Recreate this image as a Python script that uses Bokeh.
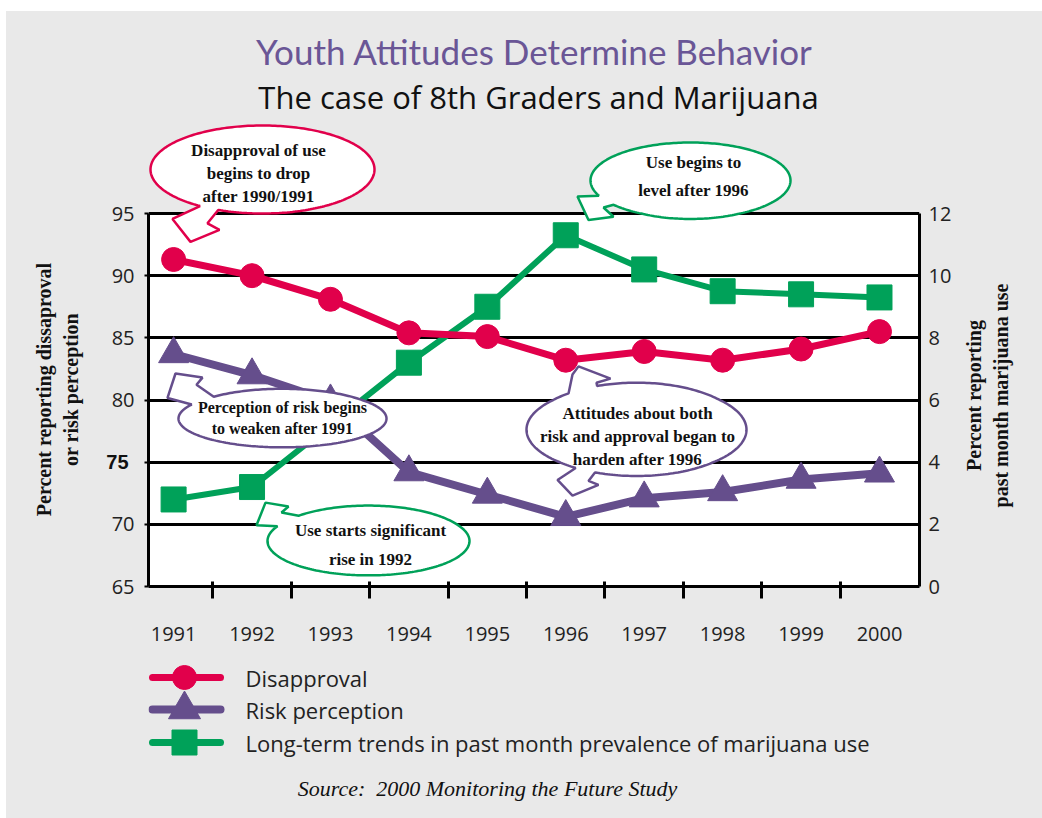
import math

import numpy as np
from bokeh.core.properties import value
from bokeh.embed import file_html
from bokeh.layouts import column, row
from bokeh.models import (BoxAnnotation, FixedTicker, Label, LinearAxis, PolyAnnotation,
                          Range1d, Spacer)
from bokeh.plotting import figure
from bokeh.resources import INLINE

# ---------------------------------------------------------------- data
years = [1991, 1992, 1993, 1994, 1995, 1996, 1997, 1998, 1999, 2000]
disapproval = [91.3, 90.0, 88.1, 85.4, 85.1, 83.2, 83.9, 83.2, 84.1, 85.5]
risk_perception = [83.7, 82.0, 79.9, 74.2, 72.4, 70.6, 72.1, 72.6, 73.6, 74.1]
past_month_use = [2.8, 3.2, 5.2, 7.2, 9.0, 11.3, 10.2, 9.5, 9.4, 9.3]

left_ticks = [65, 70, 75, 80, 85, 90, 95]
right_ticks = [0, 2, 4, 6, 8, 10, 12]
year_labels = [str(y) for y in years]
series_names = [
    "Disapproval",
    "Risk perception",
    "Long-term trends in past month prevalence of marijuana use",
]

# ---------------------------------------------------------------- styles
RED = "#e1004b"
PURPLE = "#654e8c"
GREEN = "#00a159"
TITLE_PURPLE = "#6a5696"
BG = "#e9e9e9"
INK = "#111111"

# page layout (pixels)
OFF_X, OFF_Y = 6, 11
PAGE_W, PAGE_H = 1042, 818
FRAME_L, FRAME_R, BOX_T, BOX_B = 148, 919, 213, 586
MAIN_BOTTOM = 650
W = PAGE_W - OFF_X

X_LO, X_HI = 1990.68, 2000.51
Y_LO, Y_HI = 65, 95
U_LO, U_HI = 0, 12
PX_PER_UNIT = (BOX_B - BOX_T) / (Y_HI - Y_LO)
# the plotting frame reaches up to the top of the canvas so that the
# headings and the callouts above the box can be drawn in it
Y_TOP = Y_HI + (BOX_T - OFF_Y) / PX_PER_UNIT
U_TOP = U_HI + (BOX_T - OFF_Y) / PX_PER_UNIT * (U_HI - U_LO) / (Y_HI - Y_LO)

# the gridlines of the printed chart are not evenly spaced; callouts are
# placed relative to them
GRID_PX = [213, 270, 328, 389, 456, 519, 586]
GRID_VAL = [95, 90, 85, 80, 75, 70, 65]


def x_at(px):
    return X_LO + (px - FRAME_L) * (X_HI - X_LO) / (FRAME_R - FRAME_L)


def y_abs(py):
    return Y_HI - (py - BOX_T) / PX_PER_UNIT


def y_at(py):
    if py <= BOX_T or py >= BOX_B:
        return y_abs(py)
    return float(np.interp(py, GRID_PX, GRID_VAL))


def bubble_path(cx, cy, rx, ry, tails, n=260):
    """Ellipse outline with jagged pointer tails spliced into it."""
    def ang(pt):
        return math.atan2((pt[1] - cy) / ry, (pt[0] - cx) / rx)

    items = []
    for t in tails:
        a0, a1 = ang(t[0]), ang(t[-1])
        d = (a1 - a0) % (2 * math.pi)
        if d > math.pi:
            t = t[::-1]
            a0, a1 = a1, a0
            d = 2 * math.pi - d
        items.append((a0 % (2 * math.pi), d, list(t)))
    items.sort(key=lambda it: it[0])

    pts = []
    k = len(items)
    for i in range(k):
        a0, d, t = items[i]
        end = a0 + d
        t[0] = (cx + rx * math.cos(a0), cy + ry * math.sin(a0))
        t[-1] = (cx + rx * math.cos(end), cy + ry * math.sin(end))
        pts.extend(t)
        nxt = items[(i + 1) % k][0]
        gap = (nxt - end) % (2 * math.pi)
        m = max(2, int(n * gap / (2 * math.pi)))
        for j in range(1, m):
            th = end + gap * j / m
            pts.append((cx + rx * math.cos(th), cy + ry * math.sin(th)))
    return pts


# ---------------------------------------------------------------- main chart
p = figure(
    width=W,
    height=MAIN_BOTTOM - OFF_Y,
    x_range=Range1d(X_LO, X_HI),
    y_range=Range1d(Y_LO, Y_TOP),
    output_backend="svg",
    toolbar_location=None,
    title_location=None,
    min_border_left=FRAME_L - OFF_X,
    min_border_right=PAGE_W - FRAME_R,
    min_border_top=0,
    min_border_bottom=MAIN_BOTTOM - BOX_B,
    background_fill_color=BG,
    border_fill_color=BG,
)
p.outline_line_color = None
p.extra_y_ranges = {"use": Range1d(U_LO, U_TOP)}

# white chart box
p.add_layout(BoxAnnotation(bottom=Y_LO, top=Y_HI, fill_color="white", fill_alpha=1.0,
                           line_color=None, level="image"))

# grid (the 95 line doubles as the top edge of the box)
p.xgrid.visible = False
p.ygrid.ticker = FixedTicker(ticks=left_ticks)
p.ygrid.grid_line_color = "black"
p.ygrid.grid_line_width = 3

# bottom axis: year labels centred, tick marks between the years
xa = p.xaxis[0]
xa.ticker = FixedTicker(ticks=years, minor_ticks=[y + 0.5 for y in years[:-1]])
xa.major_label_overrides = {y: s for y, s in zip(years, year_labels)}
xa.major_tick_in = 0
xa.major_tick_out = 0
xa.minor_tick_in = 5
xa.minor_tick_out = 12
xa.minor_tick_line_width = 3
xa.minor_tick_line_color = "black"
xa.axis_line_width = 3
xa.axis_line_color = "black"
xa.major_label_standoff = 28
xa.major_label_text_font = "Open Sans"
xa.major_label_text_font_size = "20px"
xa.major_label_text_color = "#222222"

# left axis (the 75 label is set in bold separately)
ya = p.yaxis[0]
ya.ticker = FixedTicker(ticks=left_ticks)
ya.bounds = (Y_LO, Y_HI)
ya.major_tick_in = 0
ya.major_tick_out = 4
ya.major_tick_line_width = 2
ya.minor_tick_in = 0
ya.minor_tick_out = 0
ya.axis_line_width = 3
ya.axis_line_color = "black"
ya.major_label_standoff = 10
ya.major_label_text_font = "Open Sans"
ya.major_label_text_font_size = "20px"
ya.major_label_text_color = "#222222"
ya.major_label_overrides = {75: ""}

p.add_layout(Label(
    x=x_at(128), y=75, text="75",
    text_font="Liberation Sans", text_font_style="bold", text_font_size="20px",
    text_align="right", text_baseline="middle", text_color=INK,
), "left")

# left axis title, reading upwards
p.add_layout(Label(
    x=x_at(57), y=y_abs(389), text="Percent reporting dissaproval\nor risk perception",
    angle=math.pi / 2,
    text_font="Liberation Serif", text_font_style="bold", text_font_size="20px",
    text_align="center", text_baseline="middle", text_line_height=1.25,
    text_color=INK,
), "left")

# right axis
ra = LinearAxis(y_range_name="use", ticker=FixedTicker(ticks=right_ticks))
ra.bounds = (U_LO, U_HI)
ra.major_tick_in = 0
ra.major_tick_out = 0
ra.minor_tick_in = 0
ra.minor_tick_out = 0
ra.axis_line_width = 3
ra.axis_line_color = "black"
ra.major_label_standoff = 9
ra.major_label_text_font = "Open Sans"
ra.major_label_text_font_size = "20px"
ra.major_label_text_color = "#222222"
p.add_layout(ra, "right")

# right axis title, reading upwards
p.add_layout(Label(
    x=x_at(987), y=y_abs(395), text="Percent reporting\npast month marijuana use",
    angle=math.pi / 2,
    text_font="Liberation Serif", text_font_style="bold", text_font_size="20px",
    text_align="center", text_baseline="middle", text_line_height=1.25,
    text_color=INK,
), "right")

# series
p.line(years, past_month_use, y_range_name="use", line_color=GREEN, line_width=6, line_join="round")
p.scatter(years, past_month_use, y_range_name="use", marker="square", size=25,
          fill_color=GREEN, line_color=GREEN)
p.line(years, risk_perception, line_color=PURPLE, line_width=8, line_join="round")
p.scatter(years, risk_perception, marker="triangle", size=30,
          fill_color=PURPLE, line_color=PURPLE)
p.line(years, disapproval, line_color=RED, line_width=7, line_join="round")
p.scatter(years, disapproval, marker="circle", size=24,
          fill_color=RED, line_color=RED)

# callout bubbles: centre, radii, tails, outline colour, text, text centre, line height, font size
callouts = [
    ((262, 169), (112, 44),
     [[(197, 207), (172, 218), (190, 239), (219, 228), (207, 222), (216, 211)]],
     RED, "Disapproval of use\nbegins to drop\nafter 1990/1991", (258, 173), 1.22, "17px"),
    ((690, 180), (100, 38),
     [[(600, 195), (577, 196), (588, 219), (613, 216), (603, 207), (614, 204)]],
     GREEN, "Use begins to\nlevel after 1996", (693, 176), 1.5, "17px"),
    ((282, 409), (104, 31),
     [[(192, 394), (167, 387), (175, 363), (202, 367), (196, 374), (214, 386)]],
     PURPLE, "Perception of risk begins\nto weaken after 1991", (282, 408), 1.25, "16px"),
    ((636, 421), (110, 49),
     [[(562, 379), (572, 364), (578, 356), (610, 368), (596, 372), (599, 378)],
      [(566, 468), (557, 474), (572, 490), (598, 479), (588, 475), (593, 468)]],
     PURPLE, "Attitudes about both\nrisk and approval began to\nharden after 1996", (637, 428), 1.22, "17px"),
    ((368, 537), (101, 37),
     [[(283, 522), (256, 520), (265, 497), (288, 501), (281, 507), (300, 511)]],
     GREEN, "Use starts significant\nrise in 1992", (370, 541), 1.55, "17px"),
]

for (cx, cy), (rx, ry), tails, col, txt, (tx, ty), lh, fs in callouts:
    path = bubble_path(cx, cy, rx, ry, tails)
    p.add_layout(PolyAnnotation(
        xs=[x_at(x) for x, _ in path],
        ys=[y_at(y) for _, y in path],
        xs_units="data", ys_units="data",
        fill_color="white", fill_alpha=1.0,
        line_color=col, line_width=2.5, line_alpha=1.0,
    ))
    p.add_layout(Label(
        x=x_at(tx), y=y_at(ty), text=txt,
        text_font="Liberation Serif", text_font_style="bold", text_font_size=fs,
        text_align="center", text_baseline="middle", text_line_height=lh,
        text_color=INK,
    ))

# headings
p.add_layout(Label(
    x=x_at(534), y=y_abs(50), text="Youth Attitudes Determine Behavior",
    text_font="Lato", text_font_size="35px",
    text_align="center", text_baseline="middle", text_color=TITLE_PURPLE,
))
p.add_layout(Label(
    x=x_at(538), y=y_abs(96), text="The case of 8th Graders and Marijuana",
    text_font="Open Sans", text_font_size="31px",
    text_align="center", text_baseline="middle", text_color=INK,
))

# ---------------------------------------------------------------- key and source
k = figure(
    width=W,
    height=PAGE_H - MAIN_BOTTOM,
    x_range=Range1d(FRAME_L, FRAME_R),
    y_range=Range1d(PAGE_H, MAIN_BOTTOM),
    output_backend="svg",
    toolbar_location=None,
    title_location=None,
    min_border_left=FRAME_L - OFF_X,
    min_border_right=PAGE_W - FRAME_R,
    min_border_top=0,
    min_border_bottom=0,
    x_axis_location=None,
    y_axis_location=None,
    background_fill_color=BG,
    border_fill_color=BG,
)
k.outline_line_color = None
k.grid.visible = False

key_rows = [677, 709, 742]
key_styles = [
    (RED, "circle", 24, 7),
    (PURPLE, "triangle", 32, 8),
    (GREEN, "square", 25, 7),
]
for yk, name, (col, mk, sz, lw) in zip(key_rows, series_names, key_styles):
    k.line([152, 220], [yk, yk], line_color=col, line_width=lw, line_cap="round")
    k.scatter([184], [yk], marker=mk, size=sz, fill_color=col, line_color=col)
    k.text([245], [yk], text=[name], text_font=value("Open Sans"), text_font_size="22px",
           text_align="left", text_baseline="middle", text_color="#222222")

k.text([487], [788], text=["Source:\u00a0 2000 Monitoring the Future Study"],
       text_font=value("Liberation Serif"), text_font_style="italic", text_font_size="22px",
       text_align="center", text_baseline="middle", text_color=INK)

layout = column(
    Spacer(width=PAGE_W, height=OFF_Y),
    row(Spacer(width=OFF_X, height=PAGE_H - OFF_Y),
        column(p, k, styles={"background-color": BG})),
)

open("out.html", "w").write(file_html(layout, INLINE, title="Youth Attitudes Determine Behavior"))
